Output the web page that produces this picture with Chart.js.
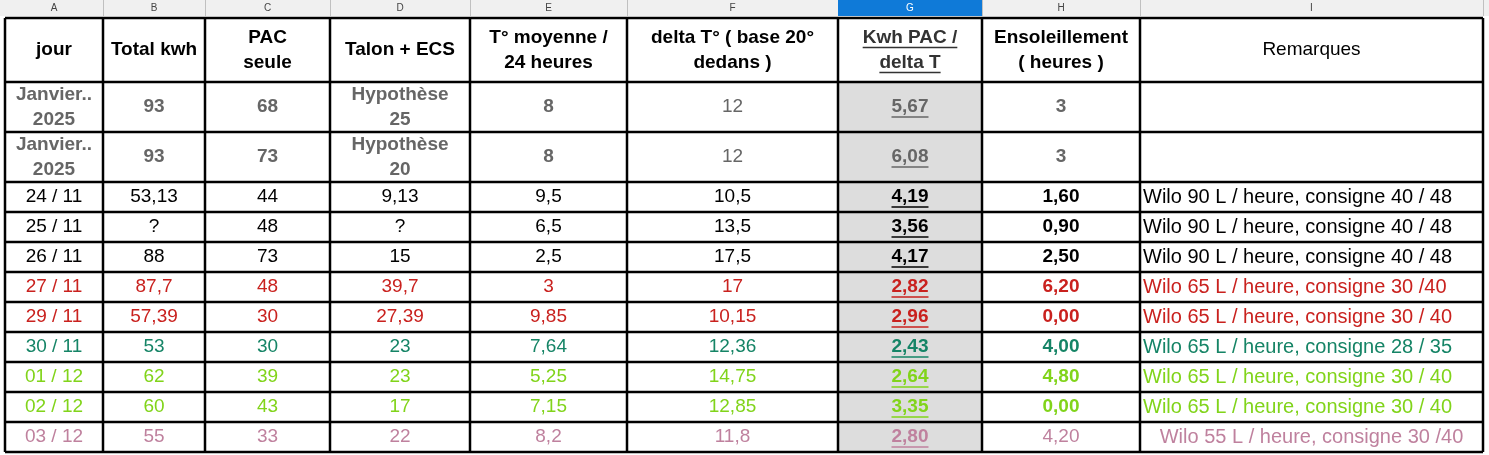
<!DOCTYPE html>
<html>
<head>
<meta charset="utf-8">
<script src="https://cdn.jsdelivr.net/npm/chart.js@4"></script>
<style>
  html, body { margin: 0; padding: 0; background: #fff; }
  #wrap { width: 1489px; height: 455px; }
</style>
</head>
<body>
<div id="wrap"><canvas id="sheet"></canvas></div>
<script>
// sheet content
const colLetters = ["A", "B", "C", "D", "E", "F", "G", "H", "I"];
const headers = ["jour", "Total kwh", "PAC\nseule", "Talon + ECS", "T° moyenne /\n24 heures",
  "delta T° ( base 20°\ndedans )", "Kwh PAC /\ndelta T", "Ensoleillement\n( heures )", "Remarques"];
const jour = ["Janvier..\n2025", "Janvier..\n2025", "24 / 11", "25 / 11", "26 / 11", "27 / 11", "29 / 11", "30 / 11", "01 / 12", "02 / 12", "03 / 12"];
const totalKwh = ["93", "93", "53,13", "?", "88", "87,7", "57,39", "53", "62", "60", "55"];
const pacSeule = ["68", "73", "44", "48", "73", "48", "30", "30", "39", "43", "33"];
const talonEcs = ["Hypothèse\n25", "Hypothèse\n20", "9,13", "?", "15", "39,7", "27,39", "23", "23", "17", "22"];
const tMoyenne = ["8", "8", "9,5", "6,5", "2,5", "3", "9,85", "7,64", "5,25", "7,15", "8,2"];
const deltaT = ["12", "12", "10,5", "13,5", "17,5", "17", "10,15", "12,36", "14,75", "12,85", "11,8"];
const kwhParDelta = ["5,67", "6,08", "4,19", "3,56", "4,17", "2,82", "2,96", "2,43", "2,64", "3,35", "2,80"];
const soleil = ["3", "3", "1,60", "0,90", "2,50", "6,20", "0,00", "4,00", "4,80", "0,00", "4,20"];
const remarques = ["", "", "Wilo 90 L / heure, consigne 40 / 48", "Wilo 90 L / heure, consigne 40 / 48",
  "Wilo 90 L / heure, consigne 40 / 48", "Wilo 65 L / heure, consigne 30 /40", "Wilo 65 L / heure, consigne 30 / 40",
  "Wilo 65 L / heure, consigne 28 / 35", "Wilo 65 L / heure, consigne 30 / 40", "Wilo 65 L / heure, consigne 30 / 40",
  "Wilo 55 L / heure, consigne 30 /40"];
const rowColors = ["#666666", "#666666", "#000000", "#000000", "#000000", "#c9211e", "#c9211e", "#158466", "#81d41a", "#81d41a", "#bf819e"];

// layout (sheet units = pixels of the 1489x455 picture)
const colEdges = [5, 103, 205, 330, 470, 627, 838, 982, 1140, 1483];
const rowEdges = [18, 82, 132, 182, 212, 242, 272, 302, 332, 362, 392, 422, 452];

const columns = [jour, totalKwh, pacSeule, talonEcs, tMoyenne, deltaT, kwhParDelta, soleil, remarques];

const FONT = '"Liberation Sans", Arial, sans-serif';

function isBold(r, c) {
  if (r < 2) return c !== 5 && c !== 8;
  if (c === 6) return true;
  if (c === 7) return r !== 10;
  return false;
}

const sheetPlugin = {
  id: "sheet",
  afterDraw(chart) {
    const ctx = chart.ctx;
    const xs = chart.scales.x, ys = chart.scales.y;
    const X = v => xs.getPixelForValue(v);
    const Y = v => ys.getPixelForValue(v);
    ctx.save();

    // column letter bar
    ctx.fillStyle = "#f0f0f0";
    ctx.fillRect(X(0), Y(0), X(1489) - X(0), Y(16) - Y(0));
    colLetters.forEach((l, c) => {
      const x0 = X(colEdges[c]), x1 = X(colEdges[c + 1]);
      if (c === 6) { ctx.fillStyle = "#0f7ad8"; ctx.fillRect(x0, Y(0), x1 - x0, Y(16) - Y(0)); }
      ctx.fillStyle = c === 6 ? "#ffffff" : "#444";
      ctx.font = "10px " + FONT;
      ctx.textAlign = "center"; ctx.textBaseline = "middle";
      ctx.fillText(l, (x0 + x1) / 2, Y(8));
      ctx.strokeStyle = "#c0c0c0"; ctx.lineWidth = 1;
      ctx.beginPath(); ctx.moveTo(x1 + 0.5, Y(0)); ctx.lineTo(x1 + 0.5, Y(16)); ctx.stroke();
    });

    // column G shading
    ctx.fillStyle = "#dddddd";
    ctx.fillRect(X(colEdges[6]), Y(rowEdges[1]), X(colEdges[7]) - X(colEdges[6]), Y(rowEdges[rowEdges.length - 1]) - Y(rowEdges[1]));

    // text
    const drawCell = (txt, r, c, color, bold, underline) => {
      const lines = txt.split("\n");
      const x0 = X(colEdges[c]), x1 = X(colEdges[c + 1]);
      const y0 = Y(rowEdges[r]), y1 = Y(rowEdges[r + 1]);
      const lh = 25;
      const size = c === 8 && r > 0 ? 20 : 19;
      ctx.font = (bold ? "bold " : "") + size + "px " + FONT;
      ctx.fillStyle = color; ctx.strokeStyle = color;
      ctx.textBaseline = "middle";
      const left = c === 8 && r > 0 && r !== 11;
      ctx.textAlign = left ? "left" : "center";
      const tx = left ? x0 + 3 : (x0 + x1) / 2;
      lines.forEach((ln, i) => {
        const ty = (y0 + y1) / 2 + (i - (lines.length - 1) / 2) * lh;
        ctx.fillText(ln, tx, ty);
        if (underline) {
          const w = ctx.measureText(ln).width;
          const ux = left ? tx : tx - w / 2;
          ctx.lineWidth = 1.5;
          ctx.beginPath(); ctx.moveTo(ux, ty + 10); ctx.lineTo(ux + w, ty + 10); ctx.stroke();
        }
      });
    };
    headers.forEach((h, c) => drawCell(h, 0, c, c === 6 ? "#333" : "#000", c !== 8, c === 6));
    for (let r = 0; r < jour.length; r++) {
      columns.forEach((col, c) => {
        drawCell(col[r], r + 1, c, rowColors[r], isBold(r, c), c === 6);
      });
    }

    // borders
    ctx.strokeStyle = "#000"; ctx.lineWidth = 2.5;
    ctx.beginPath();
    colEdges.forEach(e => { ctx.moveTo(X(e), Y(rowEdges[0])); ctx.lineTo(X(e), Y(rowEdges[rowEdges.length - 1])); });
    rowEdges.forEach(e => { ctx.moveTo(X(colEdges[0]), Y(e)); ctx.lineTo(X(colEdges[colEdges.length - 1]), Y(e)); });
    ctx.stroke();
    ctx.restore();
  }
};

new Chart(document.getElementById("sheet"), {
  type: "scatter",
  data: { datasets: [{ data: [] }] },
  options: {
    responsive: true,
    maintainAspectRatio: false,
    animation: false,
    layout: { padding: 0 },
    plugins: { legend: { display: false }, tooltip: { enabled: false } },
    scales: {
      x: { type: "linear", min: 0, max: 1489, display: false },
      y: { type: "linear", min: 0, max: 455, reverse: true, display: false }
    }
  },
  plugins: [sheetPlugin]
});
</script>
</body>
</html>
